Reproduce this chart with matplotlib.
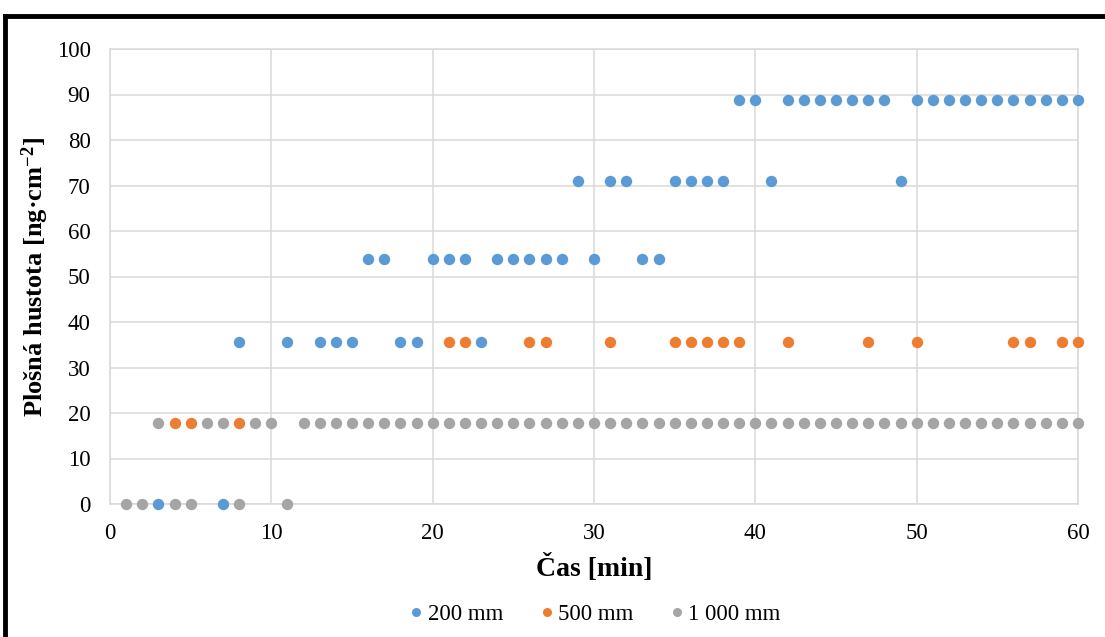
import matplotlib
matplotlib.use("Agg")
import matplotlib.pyplot as plt
from matplotlib.lines import Line2D

# ---- data ----
levels = [0.0, 17.8, 35.7, 53.8, 71.0, 88.8]

t_200 = [3, 7,
         8, 11, 13, 14, 15, 18, 19, 23,
         16, 17, 20, 21, 22, 24, 25, 26, 27, 28, 30, 33, 34,
         29, 31, 32, 35, 36, 37, 38, 41, 49,
         39, 40, 42, 43, 44, 45, 46, 47, 48, 50, 51, 52, 53, 54, 55, 56, 57, 58, 59, 60]
v_200 = ([0.0] * 2 + [35.7] * 8 + [53.8] * 13 + [71.0] * 9 + [88.8] * 20)

t_500 = [4, 5, 8,
         21, 22, 26, 27, 31, 35, 36, 37, 38, 39, 42, 47, 50, 56, 57, 59, 60]
v_500 = [17.8] * 3 + [35.7] * 17

t_1000 = [1, 2, 4, 5, 8, 11,
          3, 6, 7, 9, 10] + list(range(12, 61))
v_1000 = [0.0] * 6 + [17.8] * 5 + [17.8] * 49

series_names = ["200 mm", "500 mm", "1 000 mm"]
colors = ["#5B9BD5", "#ED7D31", "#A5A5A5"]

x_ticks = [0, 10, 20, 30, 40, 50, 60]
y_ticks = [0, 10, 20, 30, 40, 50, 60, 70, 80, 90, 100]

# ---- style ----
plt.rcParams["font.family"] = ["Liberation Serif", "DejaVu Serif"]
plt.rcParams["mathtext.fontset"] = "custom"
plt.rcParams["mathtext.rm"] = "Liberation Serif"
plt.rcParams["mathtext.bf"] = "Liberation Serif:bold"
plt.rcParams["mathtext.it"] = "Liberation Serif:italic"

W, H = 1105, 637
fig = plt.figure(figsize=(W / 100, H / 100), dpi=100)
ax = fig.add_axes([110 / W, 1 - 504 / H, (1078 - 110) / W, (504 - 49) / H])

for t, v, c, n in zip([t_200, t_500, t_1000], [v_200, v_500, v_1000], colors, series_names):
    ax.plot(t, v, linestyle="none", marker="o", markersize=8.2, color=c,
            markeredgewidth=0, label=n, clip_on=False, zorder=3)

ax.set_xlim(0, 60)
ax.set_ylim(0, 100)
ax.set_xticks(x_ticks)
ax.set_yticks(y_ticks)
ax.grid(True, color="#D9D9D9", linewidth=1.1)
ax.set_axisbelow(True)
for s in ax.spines.values():
    s.set_color("#D9D9D9")
    s.set_linewidth(1.1)
ax.tick_params(length=0, labelsize=16.5, pad=14)

ax.set_xlabel("Čas [min]", fontsize=20, fontweight="bold", labelpad=7)
ax.set_ylabel(r"Plošná hustota [ng·cm$^{\mathbf{-2}}$]", fontsize=19,
              fontweight="bold", labelpad=4)

handles = [Line2D([], [], linestyle="none", marker="o", markersize=6.5,
                  markeredgewidth=0, color=c) for c in colors]
fig.legend(handles, series_names, loc="center", bbox_to_anchor=(594 / W, 1 - 614 / H),
           ncol=3, frameon=False, fontsize=16.5, handletextpad=0.1,
           columnspacing=1.5, handlelength=0.8)

# outer black frame (partially visible)
fig.add_artist(Line2D([5 / W, 5 / W], [0, 1 - 16 / H], color="black", linewidth=3.5,
                      transform=fig.transFigure, solid_capstyle="projecting"))
fig.add_artist(Line2D([5 / W, 1.01], [1 - 16 / H, 1 - 16 / H], color="black",
                      linewidth=3.5, transform=fig.transFigure,
                      solid_capstyle="projecting"))

fig.savefig("out.png", dpi=100)
